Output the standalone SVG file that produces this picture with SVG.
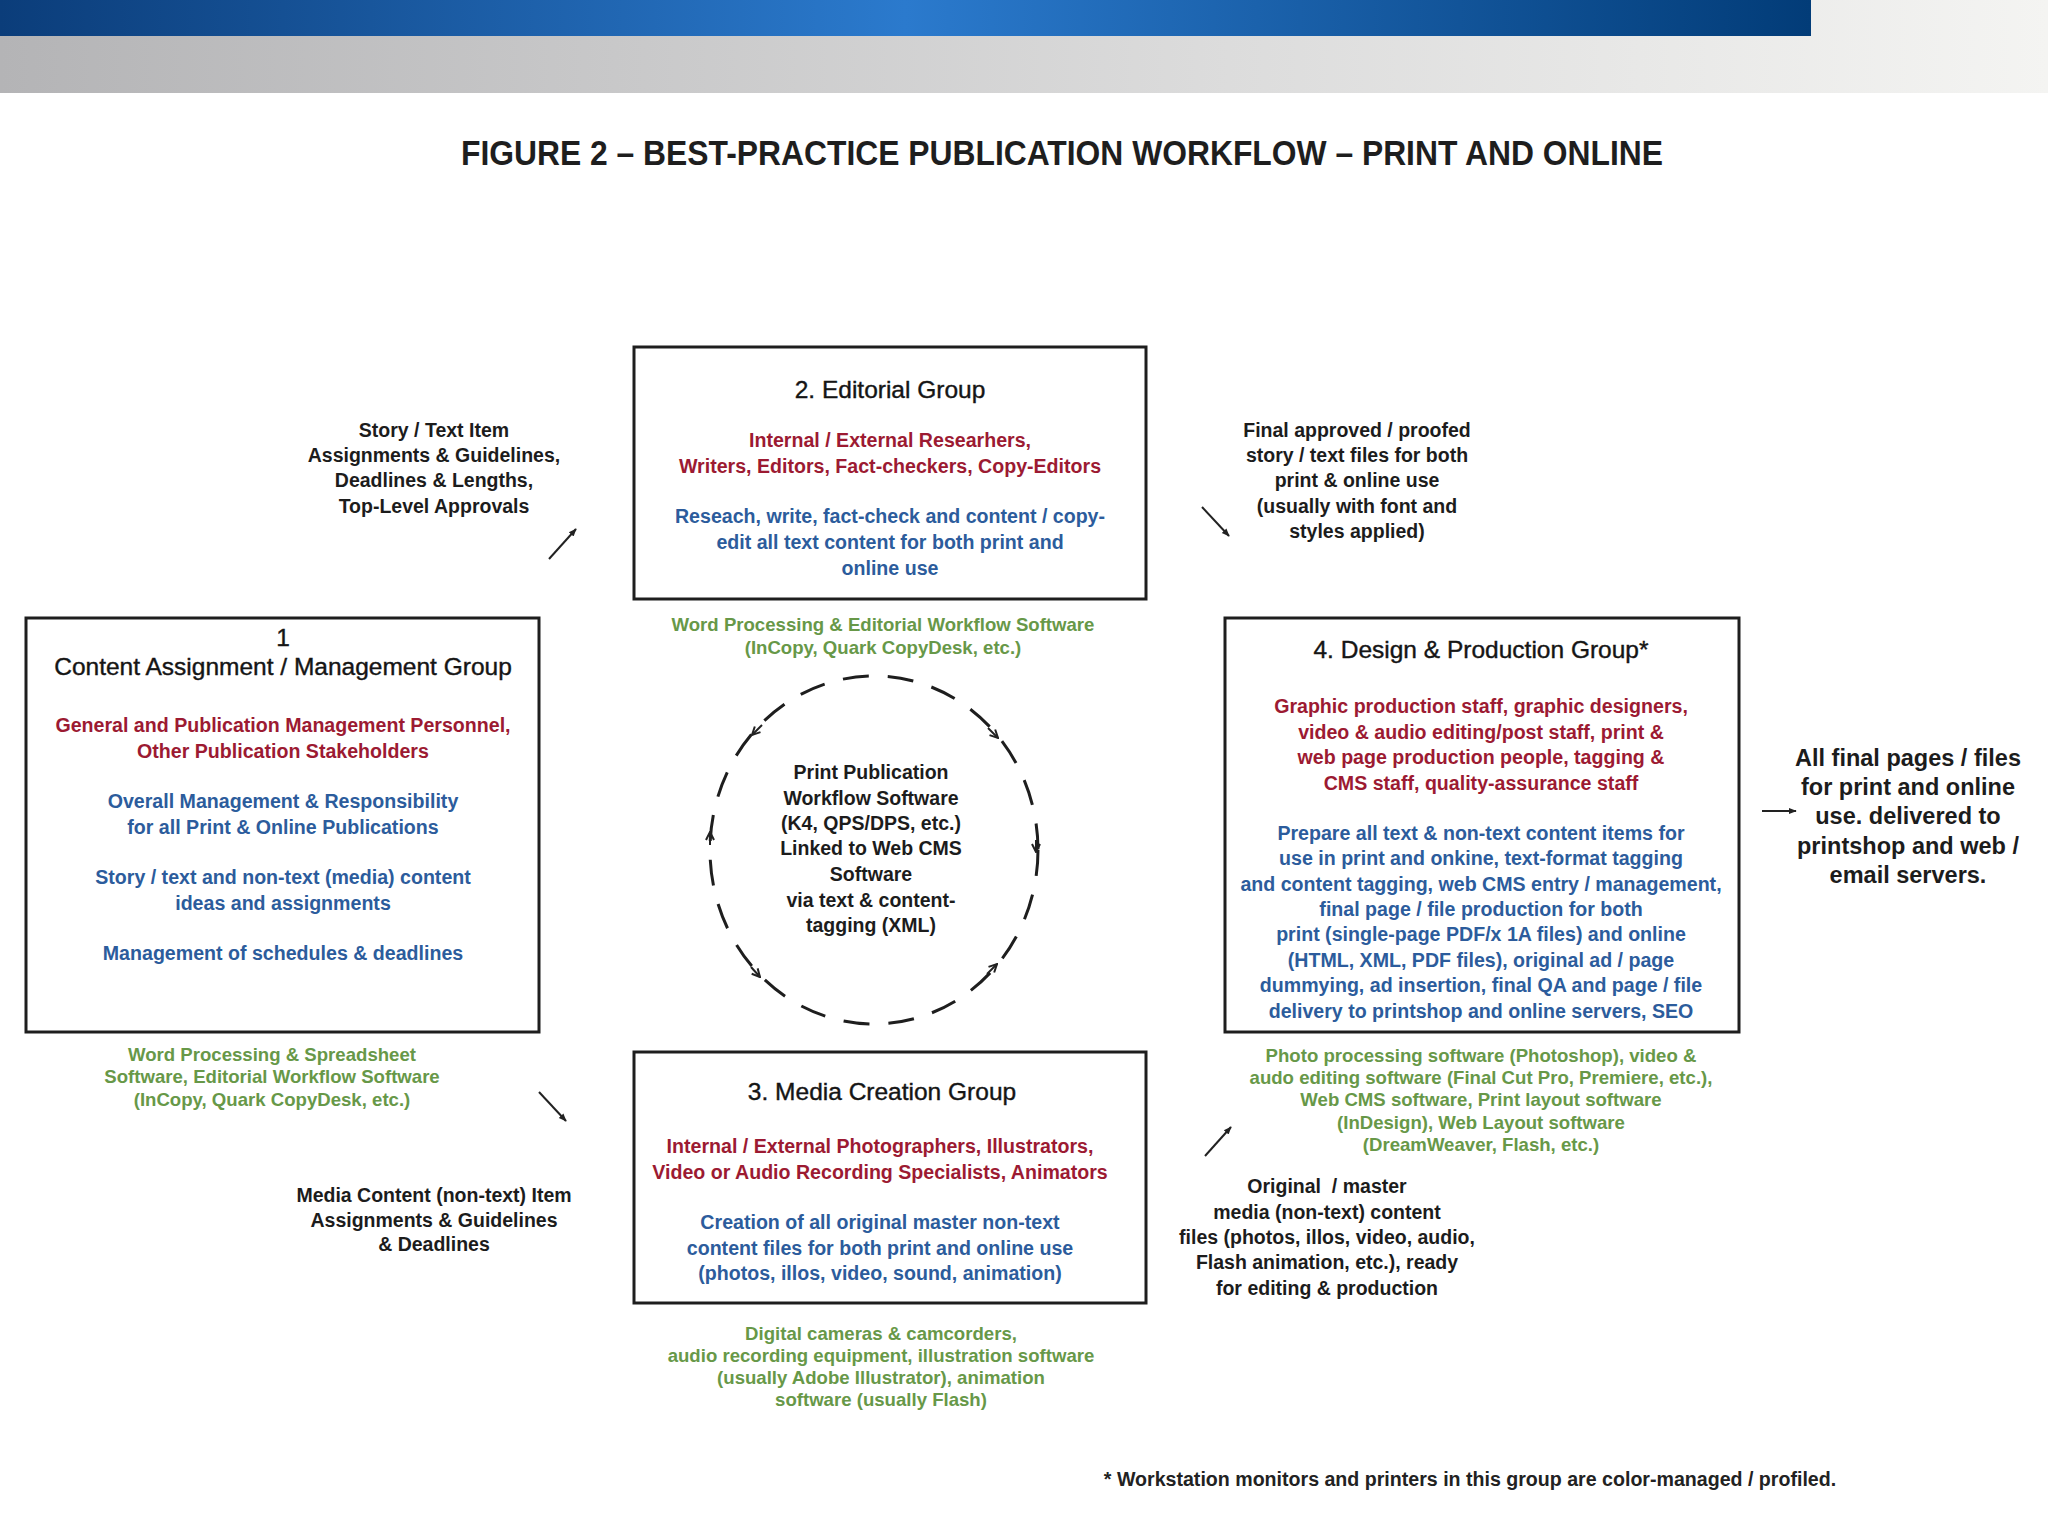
<svg xmlns="http://www.w3.org/2000/svg" width="2048" height="1536" viewBox="0 0 2048 1536">
  <defs>
    <linearGradient id="gBlue" x1="0" y1="0" x2="1" y2="0">
      <stop offset="0" stop-color="#0b3d7a"/>
      <stop offset="0.5" stop-color="#2b7acd"/>
      <stop offset="1" stop-color="#023c78"/>
    </linearGradient>
    <linearGradient id="gGray" x1="0" y1="0" x2="1" y2="0">
      <stop offset="0" stop-color="#b4b4b6"/>
      <stop offset="0.6" stop-color="#dcdcdc"/>
      <stop offset="1" stop-color="#f4f4f2"/>
    </linearGradient>
    <marker id="ah" viewBox="0 0 10 10" refX="9" refY="5" markerWidth="8" markerHeight="8" markerUnits="userSpaceOnUse" orient="auto">
      <path d="M0,1 L10,5 L0,9 Z" fill="#222"/>
    </marker>
    <marker id="ch" viewBox="0 0 10 10" refX="9" refY="5" markerWidth="10" markerHeight="10" markerUnits="userSpaceOnUse" orient="auto">
      <path d="M1,1 L9,5 L1,9" fill="none" stroke="#222" stroke-width="2"/>
    </marker>
    <style>
      text { font-family: "Liberation Sans", Arial, sans-serif; text-anchor: middle; }
      .title { font-size: 35px; font-weight: bold; fill: #1e1e1e; }
      .head { font-size: 24.5px; fill: #151515; stroke: #151515; stroke-width: 0.4px; }
      .red { font-size: 19.6px; font-weight: bold; fill: #9c1a32; }
      .blue { font-size: 19.6px; font-weight: bold; fill: #2c5c9c; }
      .green { font-size: 18.6px; font-weight: bold; fill: #679848; }
      .note { font-size: 19.5px; font-weight: bold; fill: #1c1c1c; }
      .big { font-size: 23.5px; font-weight: bold; fill: #1c1c1c; }
      .foot { font-size: 19.6px; font-weight: bold; fill: #222; }
      .box { fill: #ffffff; stroke: #1e1e1e; stroke-width: 3; }
      .arr { stroke: #222; stroke-width: 2; fill: none; }
    </style>
  </defs>

  <rect x="0" y="0" width="2048" height="1536" fill="#ffffff"/>

  <g id="header">
    <rect x="0" y="0" width="2048" height="93" fill="url(#gGray)"/>
    <rect x="0" y="0" width="1811" height="36" fill="url(#gBlue)"/>
    <text class="title" x="1062" y="165" textLength="1202" lengthAdjust="spacingAndGlyphs">FIGURE 2 – BEST-PRACTICE PUBLICATION WORKFLOW – PRINT AND ONLINE</text>
  </g>

  <g id="node1">
    <rect class="box" x="26" y="618" width="513" height="414"/>
    <text class="head" x="283" y="646">1</text>
    <text class="head" x="283" y="675">Content Assignment / Management Group</text>
    <text class="red" x="283" y="732">General and Publication Management Personnel,</text>
    <text class="red" x="283" y="758">Other Publication Stakeholders</text>
    <text class="blue" x="283" y="808">Overall Management &amp; Responsibility</text>
    <text class="blue" x="283" y="834">for all Print &amp; Online Publications</text>
    <text class="blue" x="283" y="884">Story / text and non-text (media) content</text>
    <text class="blue" x="283" y="910">ideas and assignments</text>
    <text class="blue" x="283" y="960">Management of schedules &amp; deadlines</text>
    <text class="green" x="272" y="1061">Word Processing &amp; Spreadsheet</text>
    <text class="green" x="272" y="1083">Software, Editorial Workflow Software</text>
    <text class="green" x="272" y="1106">(InCopy, Quark CopyDesk, etc.)</text>
  </g>

  <g id="node2">
    <rect class="box" x="634" y="347" width="512" height="252"/>
    <text class="head" x="890" y="398">2. Editorial Group</text>
    <text class="red" x="890" y="447">Internal / External Researhers,</text>
    <text class="red" x="890" y="473">Writers, Editors, Fact-checkers, Copy-Editors</text>
    <text class="blue" x="890" y="523">Reseach, write, fact-check and content / copy-</text>
    <text class="blue" x="890" y="549">edit all text content for both print and</text>
    <text class="blue" x="890" y="575">online use</text>
    <text class="green" x="883" y="631">Word Processing &amp; Editorial Workflow Software</text>
    <text class="green" x="883" y="654">(InCopy, Quark CopyDesk, etc.)</text>
  </g>

  <g id="node3">
    <rect class="box" x="634" y="1052" width="512" height="251"/>
    <text class="head" x="882" y="1100">3. Media Creation Group</text>
    <text class="red" x="880" y="1153">Internal / External Photographers, Illustrators,</text>
    <text class="red" x="880" y="1179">Video or Audio Recording Specialists, Animators</text>
    <text class="blue" x="880" y="1229">Creation of all original master non-text</text>
    <text class="blue" x="880" y="1255">content files for both print and online use</text>
    <text class="blue" x="880" y="1280">(photos, illos, video, sound, animation)</text>
    <text class="green" x="881" y="1340">Digital cameras &amp; camcorders,</text>
    <text class="green" x="881" y="1362">audio recording equipment, illustration software</text>
    <text class="green" x="881" y="1384">(usually Adobe Illustrator), animation</text>
    <text class="green" x="881" y="1406">software (usually Flash)</text>
  </g>

  <g id="node4">
    <rect class="box" x="1225" y="618" width="514" height="414"/>
    <text class="head" x="1481" y="658">4. Design &amp; Production Group*</text>
    <text class="red" x="1481" y="713">Graphic production staff, graphic designers,</text>
    <text class="red" x="1481" y="739">video &amp; audio editing/post staff, print &amp;</text>
    <text class="red" x="1481" y="764">web page production people, tagging &amp;</text>
    <text class="red" x="1481" y="790">CMS staff, quality-assurance staff</text>
    <text class="blue" x="1481" y="840">Prepare all text &amp; non-text content items for</text>
    <text class="blue" x="1481" y="865">use in print and onkine, text-format tagging</text>
    <text class="blue" x="1481" y="891">and content tagging, web CMS entry / management,</text>
    <text class="blue" x="1481" y="916">final page / file production for both</text>
    <text class="blue" x="1481" y="941">print (single-page PDF/x 1A files) and online</text>
    <text class="blue" x="1481" y="967">(HTML, XML, PDF files), original ad / page</text>
    <text class="blue" x="1481" y="992">dummying, ad insertion, final QA and page / file</text>
    <text class="blue" x="1481" y="1018">delivery to printshop and online servers, SEO</text>
    <text class="green" x="1481" y="1062">Photo processing software (Photoshop), video &amp;</text>
    <text class="green" x="1481" y="1084">audo editing software (Final Cut Pro, Premiere, etc.),</text>
    <text class="green" x="1481" y="1106">Web CMS software, Print layout software</text>
    <text class="green" x="1481" y="1129">(InDesign), Web Layout software</text>
    <text class="green" x="1481" y="1151">(DreamWeaver, Flash, etc.)</text>
  </g>

  <g id="hub">
    <ellipse cx="874" cy="850" rx="164" ry="174" fill="none" stroke="#1e1e1e" stroke-width="3" stroke-dasharray="26 19"/>
    <text class="note" x="871" y="779">Print Publication</text>
    <text class="note" x="871" y="805">Workflow Software</text>
    <text class="note" x="871" y="830">(K4, QPS/DPS, etc.)</text>
    <text class="note" x="871" y="855">Linked to Web CMS</text>
    <text class="note" x="871" y="881">Software</text>
    <text class="note" x="871" y="907">via text &amp; content-</text>
    <text class="note" x="871" y="932">tagging (XML)</text>
  </g>

  <g id="labels">
    <text class="note" x="434" y="437">Story / Text Item</text>
    <text class="note" x="434" y="462">Assignments &amp; Guidelines,</text>
    <text class="note" x="434" y="487">Deadlines &amp; Lengths,</text>
    <text class="note" x="434" y="513">Top-Level Approvals</text>
    <text class="note" x="1357" y="437">Final approved / proofed</text>
    <text class="note" x="1357" y="462">story / text files for both</text>
    <text class="note" x="1357" y="487">print &amp; online use</text>
    <text class="note" x="1357" y="513">(usually with font and</text>
    <text class="note" x="1357" y="538">styles applied)</text>
    <text class="note" x="434" y="1202">Media Content (non-text) Item</text>
    <text class="note" x="434" y="1227">Assignments &amp; Guidelines</text>
    <text class="note" x="434" y="1251">&amp; Deadlines</text>
    <text class="note" x="1327" y="1193" style="white-space:pre">Original  / master</text>
    <text class="note" x="1327" y="1219">media (non-text) content</text>
    <text class="note" x="1327" y="1244">files (photos, illos, video, audio,</text>
    <text class="note" x="1327" y="1269">Flash animation, etc.), ready</text>
    <text class="note" x="1327" y="1295">for editing &amp; production</text>
    <text class="big" x="1908" y="766">All final pages / files</text>
    <text class="big" x="1908" y="795">for print and online</text>
    <text class="big" x="1908" y="824">use. delivered to</text>
    <text class="big" x="1908" y="854">printshop and web /</text>
    <text class="big" x="1908" y="883">email servers.</text>
    <text class="foot" x="1470" y="1486">* Workstation monitors and printers in this group are color-managed / profiled.</text>
  </g>

  <g id="connectors">
    <line class="arr" x1="549" y1="559" x2="576" y2="529" marker-end="url(#ah)"/>
    <line class="arr" x1="1202" y1="507" x2="1229" y2="536" marker-end="url(#ah)"/>
    <line class="arr" x1="539" y1="1092" x2="566" y2="1121" marker-end="url(#ah)"/>
    <line class="arr" x1="1205" y1="1156" x2="1231" y2="1127" marker-end="url(#ah)"/>
    <line class="arr" x1="1762" y1="811" x2="1796" y2="811" marker-end="url(#ah)"/>
    <path class="arr" d="M762,725 L752,735" marker-end="url(#ch)"/>
    <path class="arr" d="M988,728 L998,738" marker-end="url(#ch)"/>
    <path class="arr" d="M1036,840 L1036,852" marker-end="url(#ch)"/>
    <path class="arr" d="M987,974 L997,964" marker-end="url(#ch)"/>
    <path class="arr" d="M751,967 L760,977" marker-end="url(#ch)"/>
    <path class="arr" d="M710,845 L710,832" marker-end="url(#ch)"/>
  </g>
</svg>
